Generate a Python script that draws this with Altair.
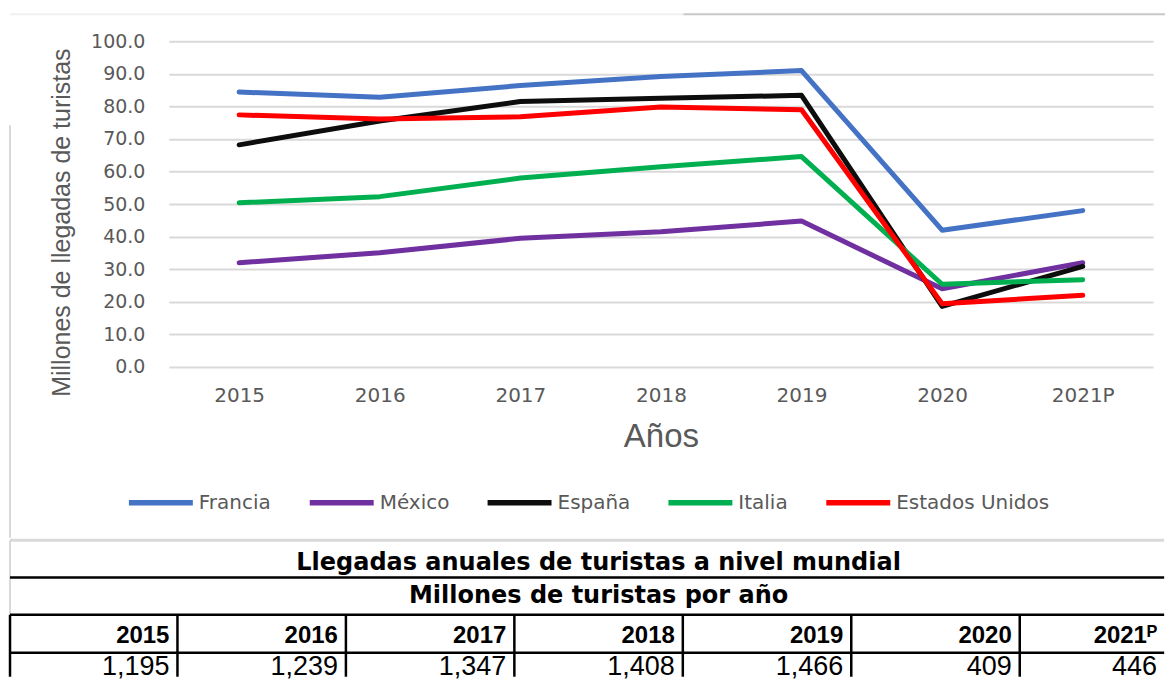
import altair as alt
import pandas as pd

# ---------------- data ----------------
years = ["2015", "2016", "2017", "2018", "2019", "2020", "2021P"]
countries = ["Francia", "México", "España", "Italia", "Estados Unidos"]
colors = ["#4472C4", "#7030A0", "#0D0D0D", "#00B050", "#FF0000"]

francia = [84.4, 82.8, 86.4, 89.2, 91.0, 42.0, 48.0]
mexico = [32.0, 35.1, 39.5, 41.5, 44.8, 24.0, 32.0]
espana = [68.2, 75.5, 81.5, 82.5, 83.4, 18.6, 30.9]
italia = [50.4, 52.3, 58.0, 61.5, 64.6, 25.4, 26.8]
eeuu = [77.4, 76.1, 76.8, 79.8, 79.0, 19.4, 22.0]
series = [francia, mexico, espana, italia, eeuu]

table_title = "Llegadas anuales de turistas a nivel mundial"
table_subtitle = "Millones de turistas por año"
table_years = ["2015", "2016", "2017", "2018", "2019", "2020", "2021ᴾ"]
table_values = ["1,195", "1,239", "1,347", "1,408", "1,466", "409", "446"]

# ---------------- line chart ----------------
gray_text = "#595959"
df_lines = pd.DataFrame(
    [{"Año": y, "País": c, "Millones": v}
     for c, vals in zip(countries, series) for y, v in zip(years, vals)]
)

lines = alt.Chart(df_lines).mark_line(
    strokeWidth=5, strokeCap="round", strokeJoin="round"
).encode(
    x=alt.X(
        "Año:N", sort=years,
        scale=alt.Scale(type="point", padding=0.5),
        axis=alt.Axis(
            title="Años", labelAngle=0, labelFont="DejaVu Sans", labelFontSize=20,
            labelColor=gray_text, labelPadding=19, ticks=False, domain=False, grid=False,
            titleFont="Liberation Sans", titleFontSize=33, titleFontWeight="normal",
            titleColor=gray_text, titlePadding=15,
        ),
    ),
    y=alt.Y(
        "Millones:Q",
        scale=alt.Scale(domain=[0, 100], nice=False),
        axis=alt.Axis(
            values=list(range(0, 101, 10)), format=".1f",
            labelFont="DejaVu Sans", labelFontSize=19, labelColor=gray_text,
            labelPadding=24, ticks=False, domain=False,
            gridColor="#d9d9d9", gridWidth=2,
            title="Millones de llegadas de turistas", titleFont="Liberation Sans",
            titleFontSize=25, titleFontWeight="normal", titleColor=gray_text,
            titleX=-107, titleY=181, titleAngle=270, titleBaseline="middle",
        ),
    ),
    color=alt.Color(
        "País:N", sort=countries,
        scale=alt.Scale(domain=countries, range=colors),
        legend=alt.Legend(
            orient="none", legendX=-43, legendY=427, direction="horizontal",
            columns=5, title=None, symbolType="stroke", symbolSize=4096,
            symbolStrokeWidth=5.5, labelFont="DejaVu Sans", labelFontSize=20,
            labelColor=gray_text, labelOffset=3, columnPadding=27,
            labelLimit=400, padding=0,
        ),
    ),
)

one = pd.DataFrame({"k": [0]})
left_frame = alt.Chart(one).mark_rule(color="#d9d9d9", strokeWidth=2).encode(
    x=alt.value(-159), y=alt.value(84), y2=alt.value(497)
)
top_faint = alt.Chart(one).mark_rule(color="#f0f0f0", strokeWidth=2).encode(
    x=alt.value(-159), x2=alt.value(515), y=alt.value(-27)
)
top_frame = alt.Chart(one).mark_rule(color="#c8c8c8", strokeWidth=2).encode(
    x=alt.value(515), x2=alt.value(997), y=alt.value(-27)
)

plot_w = 985
chart1 = alt.layer(left_frame, top_faint, top_frame, lines).properties(width=plot_w, height=326)

# ---------------- table ----------------
# table spans from the page's left edge (160 px left of the plot origin) to the right edge
origin_off = 160.0
vis_w = 997.0              # visible width right of the plot origin
col_step = 168.6
row_h = 38
table_h = 138

x_min = origin_off / col_step
x_max = x_min + vis_w / col_step
xs = alt.Scale(domain=[x_min, x_max], nice=False, zero=False)
ys = alt.Scale(domain=[0, table_h / row_h], nice=False, zero=False, reverse=True)
y_bottom = table_h / row_h

n = len(table_years)
x_edge = x_max - 0.005
h_gray = pd.DataFrame({"x": [0.006], "x2": [x_edge], "y": [0.04]})
h_black = pd.DataFrame({"x": [0.006] * 3, "x2": [x_edge] * 3, "y": [1.02, 2.0, 3.0]})
v_idx = [i for i in range(n + 1) if i <= x_max]
v_black = pd.DataFrame({"x": [max(i, 0.006) for i in v_idx], "y": [2.0] * len(v_idx), "y2": [y_bottom] * len(v_idx)})
v_gray = pd.DataFrame({"x": [0.006], "y": [0.04], "y2": [2.0]})
titles = pd.DataFrame({"x": [n / 2, n / 2], "y": [0.63, 1.5], "t": [table_title, table_subtitle]})
cell_right = [min(i + 1, x_max - 0.0) for i in range(n)]
heads = pd.DataFrame({"x": cell_right, "y": [2.57] * n, "t": table_years})
vals = pd.DataFrame({"x": cell_right, "y": [3.38] * n, "t": table_values})

X = alt.X("x:Q", scale=xs, axis=None)
Y = alt.Y("y:Q", scale=ys, axis=None)

t_hgray = alt.Chart(h_gray).mark_rule(color="#d9d9d9", strokeWidth=3).encode(x=X, x2="x2:Q", y=Y)
t_hblack = alt.Chart(h_black).mark_rule(color="black", strokeWidth=2.5).encode(x=X, x2="x2:Q", y=Y)
t_vblack = alt.Chart(v_black).mark_rule(color="black", strokeWidth=2.5).encode(x=X, y=Y, y2="y2:Q")
t_vgray = alt.Chart(v_gray).mark_rule(color="#d9d9d9", strokeWidth=2).encode(x=X, y=Y, y2="y2:Q")
t_titles = alt.Chart(titles).mark_text(
    font="DejaVu Sans", fontSize=24, fontWeight="bold", color="black",
    align="center", baseline="middle",
).encode(x=X, y=Y, text="t:N")
t_heads = alt.Chart(heads).mark_text(
    font="Liberation Sans", fontSize=24, fontWeight="bold", color="black",
    align="right", baseline="middle", dx=-8,
).encode(x=X, y=Y, text="t:N")
t_vals = alt.Chart(vals).mark_text(
    font="Liberation Sans", fontSize=27, color="black",
    align="right", baseline="middle", dx=-8,
).encode(x=X, y=Y, text="t:N")

chart2 = alt.layer(t_hgray, t_vgray, t_hblack, t_vblack, t_titles, t_heads, t_vals).properties(
    width=vis_w, height=table_h
)

chart = alt.vconcat(chart1, chart2, spacing=0).properties(
    padding={"left": 0, "top": 5, "right": 0, "bottom": 0},
    background="white",
).configure_view(strokeWidth=0)

chart.save("out.html", embed_options={"renderer": "svg", "actions": False})
